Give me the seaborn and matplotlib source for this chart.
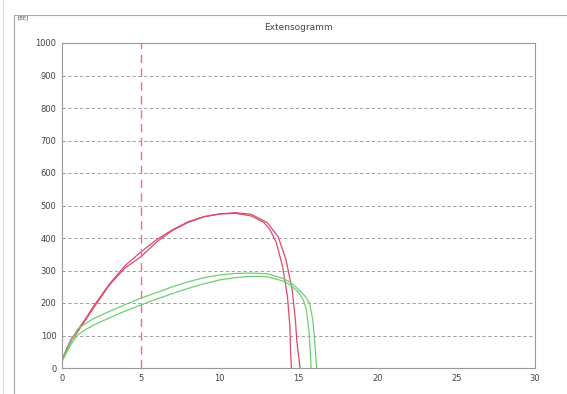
import numpy as np
import pandas as pd
import matplotlib
matplotlib.use('Agg')
import matplotlib.pyplot as plt
from matplotlib.lines import Line2D
import seaborn as sns

# Curves (x = time/extension, y = BE)
red_a_x = [0, 0.3, 0.6, 1, 1.5, 2, 3, 4, 5, 6, 7, 8, 9, 10, 11, 12, 12.8, 13.2, 13.6, 14.0, 14.3, 14.45, 14.5, 14.55]
red_a_y = [25, 60, 90, 117, 152, 190, 258, 315, 357, 395, 425, 450, 466, 474, 476, 468, 448, 425, 385, 310, 220, 130, 50, 0]

red_b_x = [0, 0.3, 0.6, 1, 1.5, 2, 3, 4, 5, 6, 7, 8, 9, 10, 11, 12, 13, 13.7, 14.2, 14.6, 14.8, 14.9, 15.0, 15.1]
red_b_y = [22, 55, 85, 112, 148, 185, 255, 308, 342, 388, 423, 448, 465, 474, 478, 473, 448, 405, 335, 240, 150, 80, 40, 0]

green_a_x = [0, 0.3, 0.6, 1, 1.5, 2, 3, 4, 5, 6, 7, 8, 9, 10, 11, 12, 13, 14, 14.5, 15, 15.4, 15.7, 15.9, 16.0, 16.1, 16.15]
green_a_y = [22, 55, 85, 120, 137, 152, 174, 195, 215, 232, 250, 265, 278, 286, 291, 292, 290, 276, 263, 242, 222, 200, 150, 100, 30, 0]

green_b_x = [0, 0.3, 0.6, 1, 1.5, 2, 3, 4, 5, 6, 7, 8, 9, 10, 11, 12, 13, 14, 14.5, 15, 15.3, 15.5, 15.65, 15.75, 15.8]
green_b_y = [20, 48, 75, 102, 118, 132, 154, 175, 194, 212, 229, 245, 259, 271, 278, 282, 281, 268, 255, 233, 210, 180, 120, 50, 0]

marker_x = 5
x_ticks = [0, 5, 10, 15, 20, 25, 30]
y_ticks = [0, 100, 200, 300, 400, 500, 600, 700, 800, 900, 1000]

sns.set_style('white')
plt.rcParams['font.family'] = ['DejaVu Sans']

fig = plt.figure(figsize=(5.67, 3.94), dpi=100)
ax = fig.add_axes([62 / 567, 26 / 394, 473 / 567, 325 / 394])

red = '#dd4a6a'
green = '#6fcf6f'
for xs, ys, c in [(red_a_x, red_a_y, red), (red_b_x, red_b_y, red),
                  (green_a_x, green_a_y, green), (green_b_x, green_b_y, green)]:
    sns.lineplot(x=xs, y=ys, color=c, linewidth=0.9, sort=False, estimator=None, ax=ax)

ax.axvline(marker_x, color='#f07080', linestyle=(0, (6, 4)), linewidth=1.0)

ax.set_xlim(0, 30)
ax.set_ylim(0, 1000)
ax.set_xticks(x_ticks)
ax.set_yticks(y_ticks)
ax.yaxis.grid(True, color='#909090', linestyle=(0, (4, 3)), linewidth=0.6)
ax.xaxis.grid(False)
ax.tick_params(labelsize=6, colors='#444444', length=2, width=0.5, pad=2)
for s in ax.spines.values():
    s.set_color('#999999')
    s.set_linewidth(0.8)

ax.set_title('Extensogramm', fontsize=6.5, color='#444444', pad=9)
fig.text(17 / 567, 1 - 19 / 394, '[BE]', fontsize=4, color='#555555')

# outer frame lines of the scanned printout
fig.add_artist(Line2D([14 / 567, 14 / 567], [0, 1 - 15 / 394], color='#aaaaaa', linewidth=0.8))
fig.add_artist(Line2D([14 / 567, 1], [1 - 15 / 394, 1 - 15 / 394], color='#aaaaaa', linewidth=0.8))
fig.add_artist(Line2D([3 / 567, 3 / 567], [0, 1], color='#cccccc', linewidth=0.6))

fig.savefig('out.png', dpi=100)
